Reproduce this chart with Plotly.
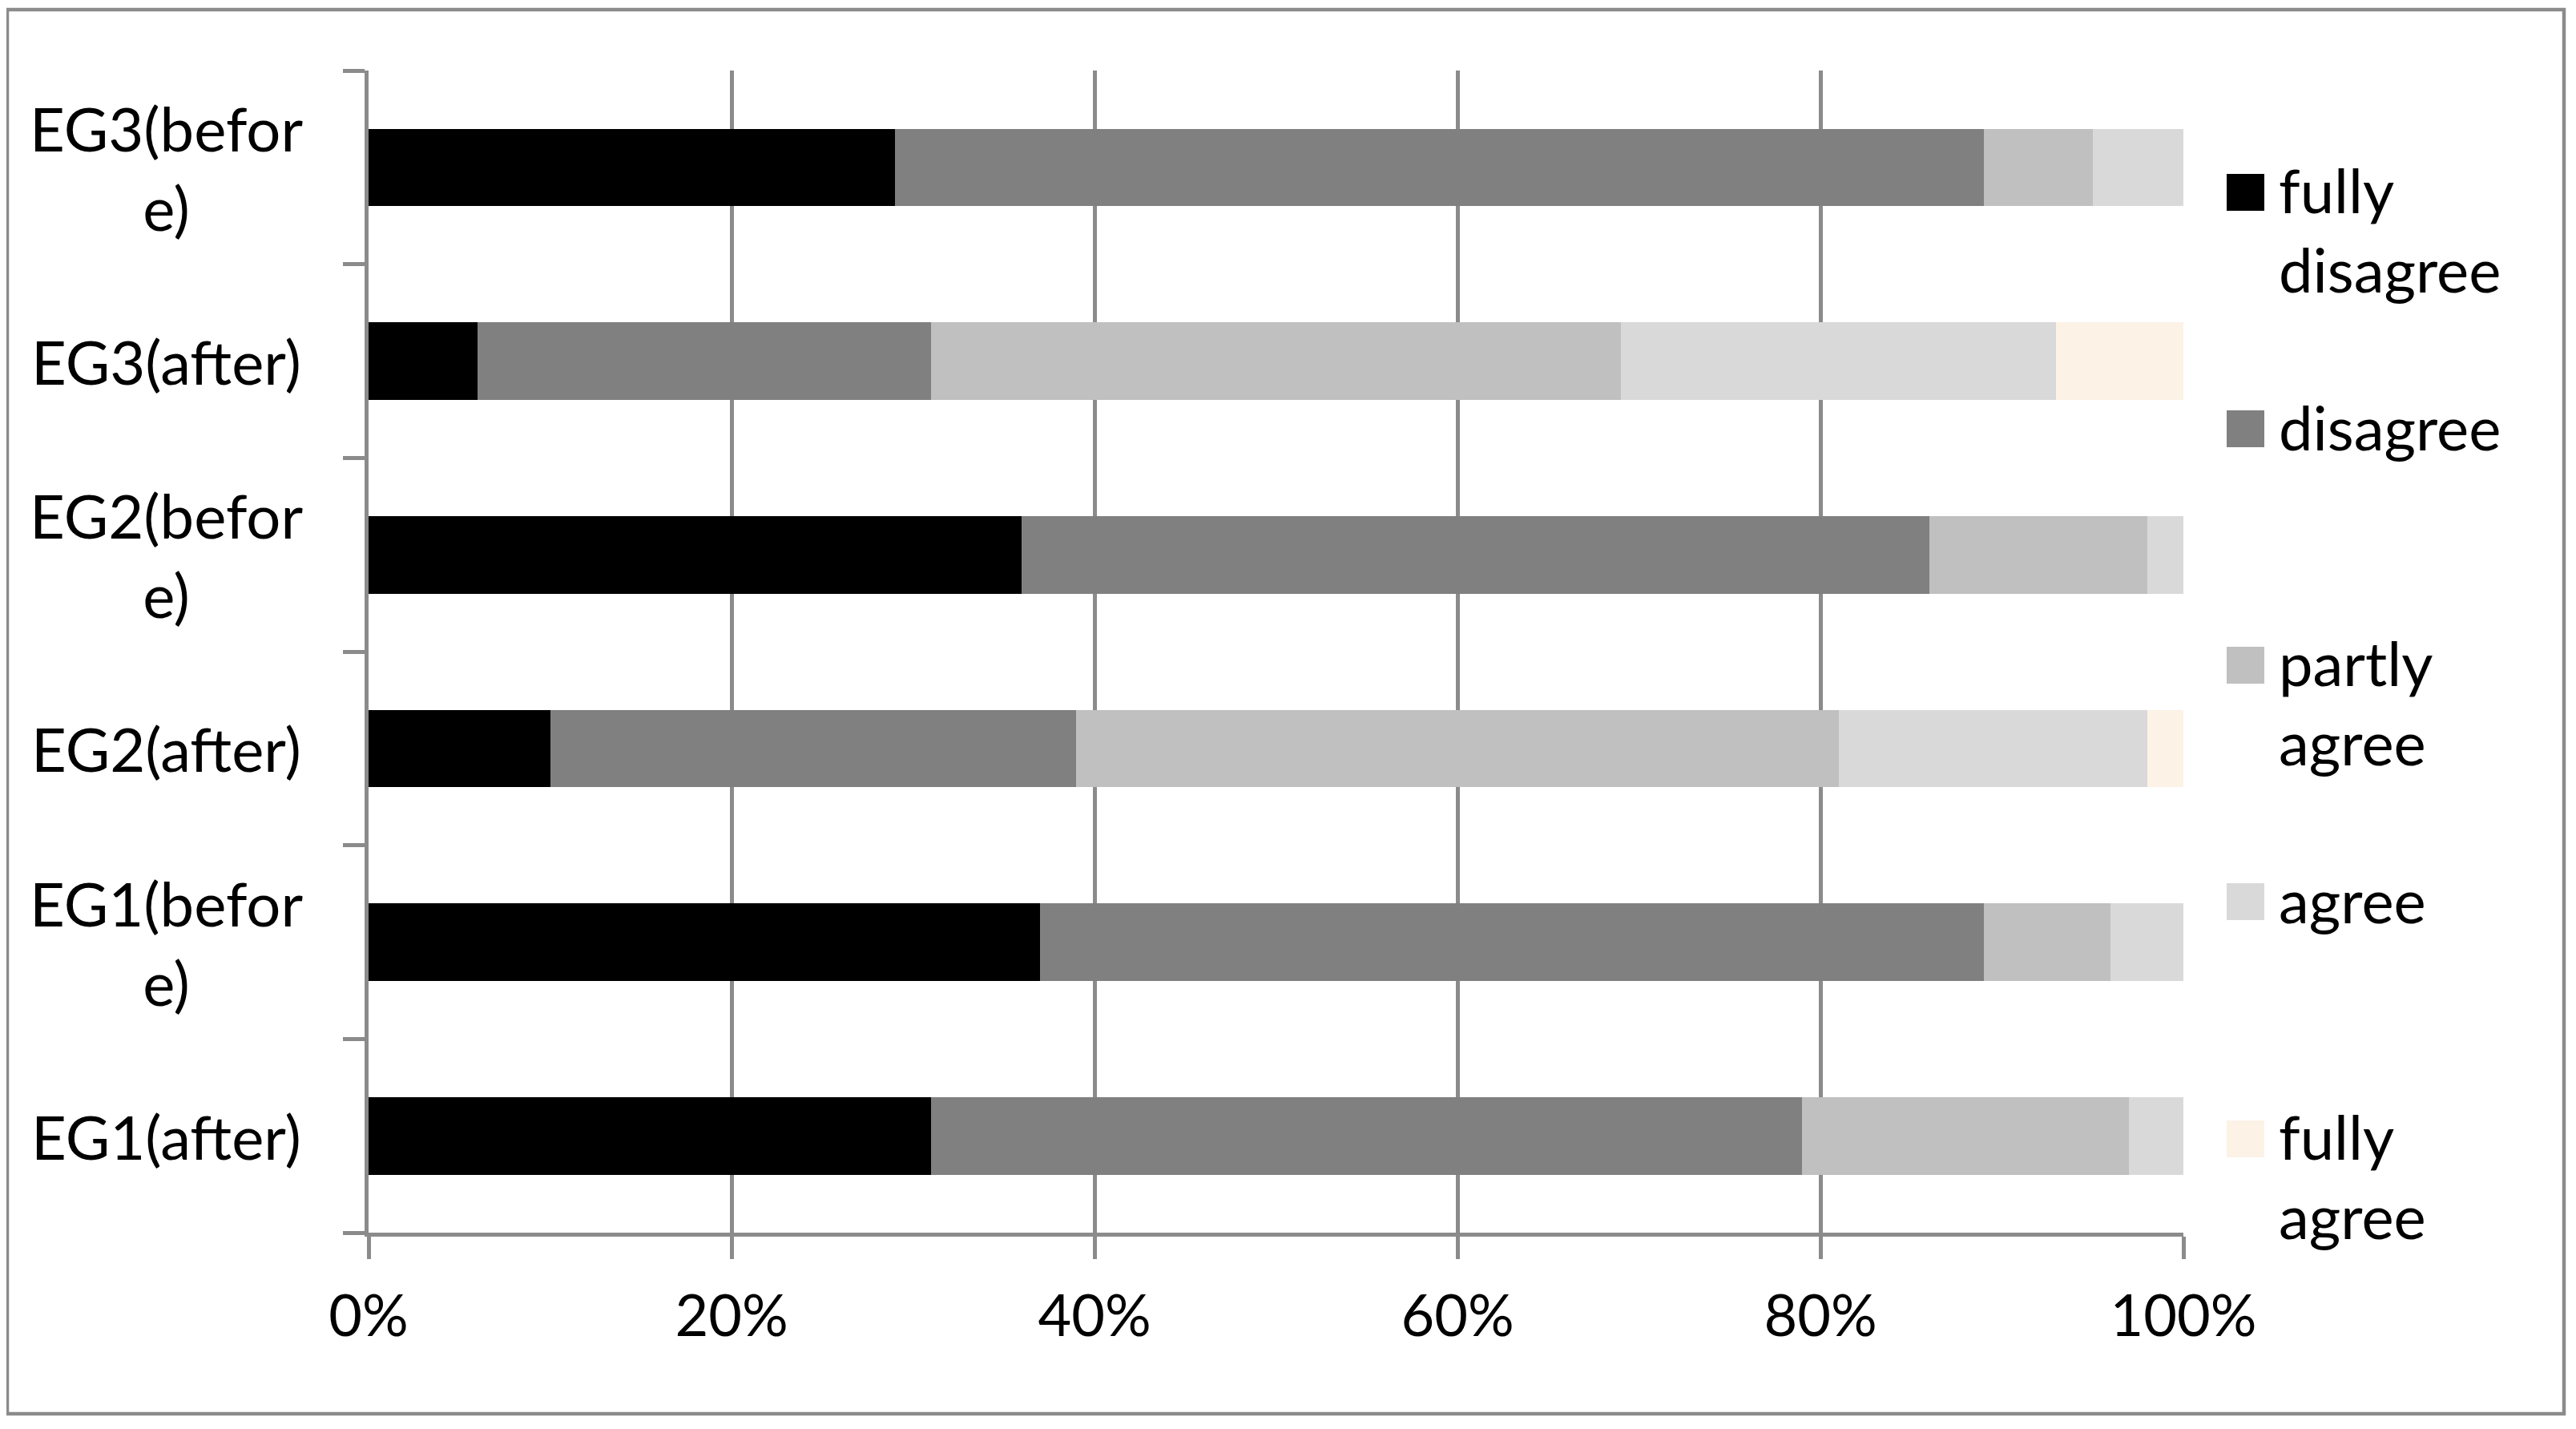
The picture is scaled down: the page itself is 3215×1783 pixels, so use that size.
import plotly.graph_objects as go

# ---------------- data ----------------
categories = ["EG1(after)", "EG1(before)", "EG2(after)", "EG2(before)", "EG3(after)", "EG3(before)"]
category_labels = ["EG1(after)", "EG1(befor<br>e)", "EG2(after)", "EG2(befor<br>e)", "EG3(after)", "EG3(befor<br>e)"]

series_names = ["fully disagree", "disagree", "partly agree", "agree", "fully agree"]
legend_labels = ["fully<br>disagree", "disagree", "partly<br>agree", "agree", "fully<br>agree"]
series_colors = ["#000000", "#808080", "#c0c0c0", "#d9d9d9", "#fcf2e6"]

fully_disagree = [31, 37, 10, 36, 6, 29]
disagree = [48, 52, 29, 50, 25, 60]
partly_agree = [18, 7, 42, 12, 38, 6]
agree = [3, 4, 17, 2, 24, 5]
fully_agree = [0, 0, 2, 0, 7, 0]
series_values = [fully_disagree, disagree, partly_agree, agree, fully_agree]

x_tick_values = [0, 20, 40, 60, 80, 100]
x_tick_labels = ["0%", "20%", "40%", "60%", "80%", "100%"]

# ---------------- layout geometry (pixels, page coordinates) ----------------
OFF = 8  # default page body margin
FIG_W, FIG_H = 3215 - 2 * OFF, 1783 - 2 * OFF
L, R, T, B = 460 - OFF, 2725 - OFF, 88 - OFF, 1538 - OFF
PW, PH = R - L, B - T
FONT = "Lato, 'Open Sans', sans-serif"
FS = 76
FS_TICK = 72
GRID = "#8b8b8b"


def px_x(px):
    return (px - OFF - L) / PW


def px_y(py):
    return (B - (py - OFF)) / PH


fig = go.Figure()
for name, vals, col in zip(series_names, series_values, series_colors):
    fig.add_trace(go.Bar(
        y=categories, x=vals, name=name, orientation="h",
        marker=dict(color=col, line=dict(width=0)),
        showlegend=False,
    ))

annotations = []
shapes = []

# category labels (centered, wrapped like the original)
for cat, lab in zip(categories, category_labels):
    annotations.append(dict(
        x=px_x(207), xref="paper", y=cat, yref="y",
        text=lab, showarrow=False, xanchor="center", yanchor="middle",
        align="center", font=dict(family=FONT, size=FS, color="#000000"),
    ))

# legend (drawn manually: large square keys, evenly spaced)
key_centers = [240, 535, 830, 1125, 1421]
line_h = 1.3 * FS
for lab, col, cy in zip(legend_labels, series_colors, key_centers):
    shapes.append(dict(
        type="rect", xref="paper", yref="paper",
        x0=px_x(2779), x1=px_x(2826), y0=px_y(cy + 23), y1=px_y(cy - 23),
        fillcolor=col, line=dict(width=0), layer="above",
    ))
    n = lab.count("<br>") + 1
    annotations.append(dict(
        x=px_x(2842), xref="paper", y=px_y(cy - 3 + (n - 1) * line_h / 2), yref="paper",
        text=lab, showarrow=False, xanchor="left", yanchor="middle",
        align="left", font=dict(family=FONT, size=FS, color="#000000"),
    ))

# outer chart border
shapes.append(dict(
    type="rect", xref="paper", yref="paper",
    x0=px_x(9), x1=px_x(3200), y0=px_y(1764), y1=px_y(12),
    line=dict(color=GRID, width=4.5), fillcolor="rgba(0,0,0,0)", layer="below",
))

fig.update_layout(
    width=FIG_W, height=FIG_H,
    margin=dict(l=L, r=FIG_W - R, t=T, b=FIG_H - B, pad=0),
    barmode="stack", bargap=0.6,
    paper_bgcolor="#ffffff", plot_bgcolor="#ffffff",
    font=dict(family=FONT, size=FS, color="#000000"),
    showlegend=False,
    annotations=annotations, shapes=shapes,
)

fig.update_xaxes(
    range=[0, 100], tickvals=x_tick_values, ticktext=x_tick_labels,
    showgrid=True, gridcolor=GRID, gridwidth=4.5,
    showline=True, linecolor=GRID, linewidth=4.5,
    ticks="outside", ticklen=28, tickwidth=4.5, tickcolor=GRID,
    ticklabelstandoff=10,
    tickfont=dict(family=FONT, size=FS_TICK, color="#000000"),
    zeroline=False, fixedrange=True,
)
fig.update_yaxes(
    type="category", categoryorder="array", categoryarray=categories,
    range=[-0.5, 5.5],
    showticklabels=False, showgrid=False,
    showline=True, linecolor=GRID, linewidth=4.5,
    ticks="outside", tickson="boundaries", ticklen=27, tickwidth=4.5, tickcolor=GRID,
    zeroline=False, fixedrange=True,
)

fig.write_html("out.html")
